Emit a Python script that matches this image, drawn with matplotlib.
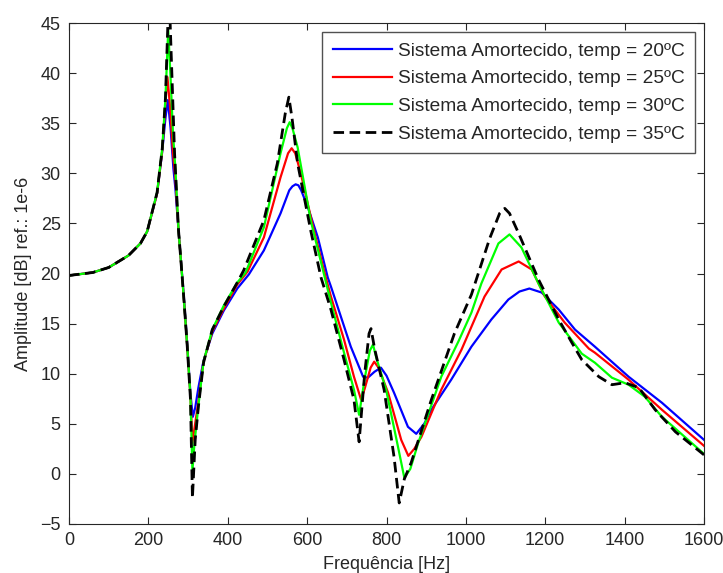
import numpy as np
import matplotlib.pyplot as plt

# values (Hz, dB)
freq_20 = [0, 60, 100, 150, 180, 197, 222, 235, 243, 249, 256, 263, 268, 276, 289, 298, 306, 312, 318, 326,
           339, 361, 390, 424, 453, 491, 533, 555, 563, 571, 578, 585, 602, 627, 652, 660, 685, 710, 741, 753,
           770, 786, 800, 819, 854, 875, 895, 913, 963, 1014, 1064, 1107, 1135, 1160, 1191, 1234, 1275, 1325,
           1410, 1494, 1600]
amp_20 = [19.8, 20.1, 20.6, 21.8, 23.0, 24.2, 28.0, 32.2, 35.5, 37.3, 34.5, 30.5, 28.5, 24.3, 17.9, 12.9, 8.0,
          5.7, 6.6, 8.6, 11.3, 14.0, 16.3, 18.5, 19.9, 22.3, 26.0, 28.3, 28.7, 28.9, 28.8, 28.3, 26.6, 23.6,
          19.6, 18.7, 15.7, 12.7, 9.7, 9.6, 10.2, 10.6, 9.8, 8.1, 4.7, 4.0, 5.0, 6.4, 9.4, 12.7, 15.4, 17.4,
          18.2, 18.5, 18.1, 16.4, 14.4, 12.7, 9.7, 7.1, 3.4]

freq_25 = [0, 60, 100, 150, 180, 197, 222, 235, 243, 248, 255, 262, 268, 276, 289, 298, 306, 311, 316, 326,
           339, 361, 390, 424, 450, 491, 533, 552, 561, 570, 584, 617, 647, 660, 693, 718, 736, 745, 760,
           769, 780, 804, 837, 855, 870, 888, 938, 989, 1047, 1090, 1133, 1166, 1199, 1249, 1310, 1325,
           1410, 1494, 1600]
amp_25 = [19.8, 20.1, 20.6, 21.8, 23.0, 24.2, 28.0, 32.3, 37.0, 39.6, 36.5, 32.0, 29.5, 24.3, 17.7, 12.7, 7.7,
          3.1, 4.5, 7.2, 11.2, 14.2, 16.5, 18.9, 20.2, 23.6, 29.6, 32.0, 32.5, 32.0, 30.0, 24.3, 19.6, 17.7,
          13.4, 9.7, 7.4, 8.5, 10.6, 11.2, 10.6, 8.1, 3.4, 1.8, 2.5, 3.7, 8.4, 12.4, 17.7, 20.4, 21.2, 20.4,
          17.7, 15.1, 12.5, 12.1, 9.4, 6.4, 2.8]

freq_30 = [0, 60, 100, 150, 180, 197, 222, 235, 243, 250, 256, 262, 268, 276, 289, 298, 306, 311, 316, 326,
           339, 361, 390, 424, 445, 491, 533, 549, 556, 563, 576, 609, 642, 660, 693, 718, 731, 745, 758,
           766, 775, 799, 829, 845, 860, 880, 938, 981, 1014, 1039, 1082, 1110, 1140, 1183, 1234, 1292,
           1325, 1368, 1410, 1451, 1494, 1600]
amp_30 = [19.8, 20.1, 20.6, 21.8, 23.0, 24.2, 28.1, 32.5, 37.5, 44.3, 39.5, 34.0, 30.5, 24.3, 17.7, 12.7, 7.7,
          0.3, 3.0, 6.8, 11.2, 14.4, 16.8, 19.1, 20.1, 24.6, 32.0, 34.5, 35.1, 34.5, 32.6, 25.3, 20.0, 17.1,
          12.1, 8.4, 5.9, 9.5, 12.3, 12.9, 11.5, 8.4, 2.7, -0.4, 0.5, 3.1, 9.7, 13.2, 16.1, 19.0, 23.0, 23.9,
          22.6, 19.0, 15.1, 12.0, 11.1, 9.6, 8.9, 7.7, 5.7, 2.0]

freq_35 = [0, 60, 100, 150, 180, 197, 222, 235, 243, 250, 254, 260, 266, 276, 289, 298, 306, 311, 318, 326,
           339, 361, 390, 424, 440, 491, 525, 545, 554, 562, 576, 609, 635, 660, 693, 718, 731, 745, 756,
           761, 770, 794, 819, 832, 845, 862, 913, 971, 1014, 1060, 1085, 1098, 1110, 1133, 1183, 1234,
           1267, 1292, 1335, 1368, 1401, 1436, 1477, 1528, 1600]
amp_35 = [19.8, 20.1, 20.6, 21.8, 23.0, 24.2, 28.1, 32.5, 37.5, 46.0, 46.0, 39.0, 32.0, 24.3, 17.7, 12.7, 7.5,
          -2.4, 3.4, 6.7, 11.1, 14.4, 16.7, 19.1, 20.3, 25.3, 31.0, 36.0, 37.6, 35.5, 31.0, 24.3, 19.6, 16.4,
          11.4, 7.4, 3.2, 10.0, 14.0, 14.5, 12.5, 8.4, 1.7, -2.9, -0.5, 1.1, 7.4, 14.0, 17.9, 23.5, 26.0, 26.5,
          26.0, 24.0, 19.4, 15.4, 13.1, 11.4, 9.7, 8.9, 9.1, 8.6, 6.4, 4.2, 1.9]

labels = ["Sistema Amortecido, temp = 20ºC", "Sistema Amortecido, temp = 25ºC",
          "Sistema Amortecido, temp = 30ºC", "Sistema Amortecido, temp = 35ºC"]

plt.rcParams['font.family'] = ['Liberation Sans', 'DejaVu Sans']
txt = '#262626'

fig = plt.figure(figsize=(7.23, 5.73), dpi=100)
ax = fig.add_axes([69 / 723, 49 / 573, 635 / 723, 501 / 573])

ax.plot(freq_20, amp_20, color=(0, 0, 1), lw=1.6, label=labels[0])
ax.plot(freq_25, amp_25, color=(1, 0, 0), lw=1.6, label=labels[1])
ax.plot(freq_30, amp_30, color=(0, 1, 0), lw=1.6, label=labels[2])
ax.plot(freq_35, amp_35, color='black', lw=2.0, ls=(0, (3.8, 2.0)), label=labels[3])

ax.set_xlim(0, 1600)
ax.set_ylim(-5, 45)
ax.set_xticks(np.arange(0, 1601, 200))
ax.set_yticks(np.arange(-5, 46, 5))
ax.tick_params(direction='in', top=True, right=True, length=5, labelsize=13, colors=txt, pad=6)
for s in ax.spines.values():
    s.set_color(txt)
ax.set_xlabel("Frequência [Hz]", fontsize=13, color=txt, labelpad=5)
ax.set_ylabel("Amplitude [dB] ref.: 1e-6", fontsize=13, color=txt, labelpad=6)

leg = ax.legend(loc='upper right', fontsize=13.8, frameon=True, fancybox=False, handlelength=3.1,
                handletextpad=0.3, labelspacing=0.54, borderaxespad=0.45, borderpad=0.55)
leg.get_frame().set_edgecolor(txt)
leg.get_frame().set_linewidth(1.0)
for t in leg.get_texts():
    t.set_color(txt)

fig.savefig("out.png", dpi=100)
